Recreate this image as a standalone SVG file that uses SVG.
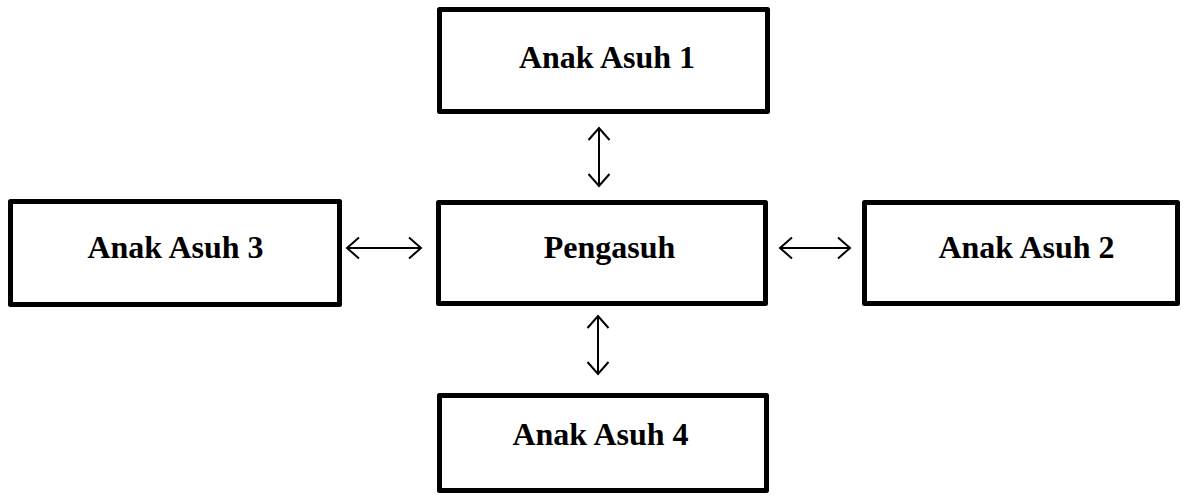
<svg xmlns="http://www.w3.org/2000/svg" width="1191" height="496" viewBox="0 0 1191 496">
<style>
.box{fill:#fff;stroke:#000;stroke-width:5;stroke-linejoin:round}
.lbl{font-family:"Liberation Serif","Times New Roman",serif;font-weight:bold;font-size:32px;fill:#000;text-anchor:middle}
.con{stroke:#000;stroke-width:2;fill:none;marker-start:url(#ah);marker-end:url(#ah)}
</style>
<defs>
<marker id="ah" markerUnits="userSpaceOnUse" viewBox="-14 -12 16 24" refX="0" refY="0" markerWidth="16" markerHeight="24" orient="auto-start-reverse">
<path d="M-12,-10.5 L0,0 L-12,10.5" fill="none" stroke="#000" stroke-width="2"/>
</marker>
</defs>
<rect width="1191" height="496" fill="#fff"/>
<g id="anak-asuh-1"><rect class="box" x="439.5" y="9.5" width="328" height="102"/><text class="lbl" x="607" y="68">Anak Asuh 1</text></g>
<g id="pengasuh"><rect class="box" x="438.5" y="202.5" width="327" height="101"/><text class="lbl" x="609.5" y="258">Pengasuh</text></g>
<g id="anak-asuh-3"><rect class="box" x="10.5" y="201.5" width="329" height="103"/><text class="lbl" x="175.5" y="258">Anak Asuh 3</text></g>
<g id="anak-asuh-2"><rect class="box" x="864.5" y="202.5" width="313" height="101"/><text class="lbl" x="1026.5" y="258">Anak Asuh 2</text></g>
<g id="anak-asuh-4"><rect class="box" x="439.5" y="395.5" width="327" height="95"/><text class="lbl" x="600.5" y="445">Anak Asuh 4</text></g>
<g id="connectors">
<line class="con" x1="599" y1="128" x2="599" y2="186"/>
<line class="con" x1="598" y1="316" x2="598" y2="374"/>
<line class="con" x1="347" y1="248" x2="421" y2="248"/>
<line class="con" x1="780" y1="248" x2="850" y2="248"/>
</g>
</svg>
